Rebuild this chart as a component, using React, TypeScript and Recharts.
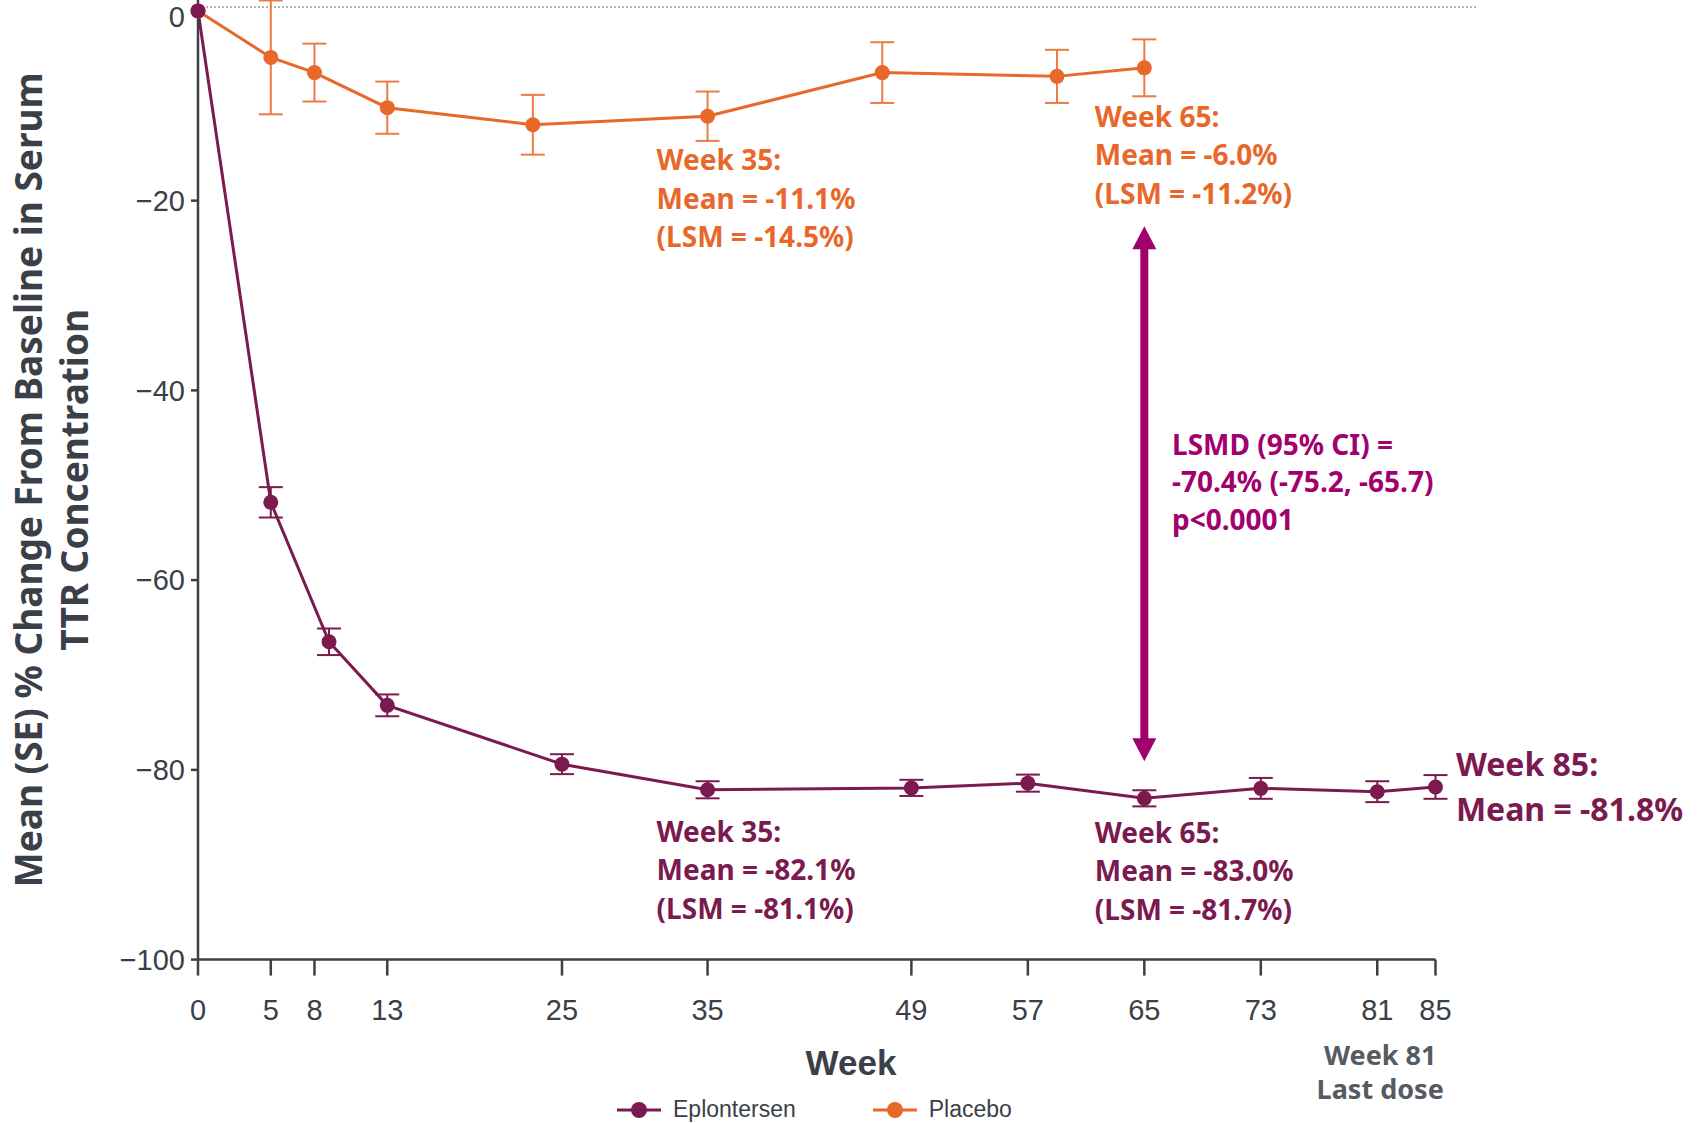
import {
  LineChart,
  Line,
  XAxis,
  YAxis,
  ErrorBar,
  ReferenceLine,
  ReferenceDot,
  Legend,
} from 'recharts';

const ORANGE = '#E8672A';
const ORANGE_ERR = '#EC7A44';
const PURPLE = '#7A1A4E';
const MAGENTA = '#A2006D';
const AXIS = '#3b4048';
const TICK_FONT = "'Liberation Sans', Arial, sans-serif";

const weekTicks = [0, 5, 8, 13, 25, 35, 49, 57, 65, 73, 81, 85];
const pctTicks = [0, -20, -40, -60, -80, -100];

const placeboWeeks = [0, 5, 8, 13, 23, 35, 47, 59, 65];
const placeboMean = [0, -4.9, -6.5, -10.2, -12.0, -11.1, -6.5, -6.9, -6.0];
const placeboSE = [0, 6.0, 3.05, 2.75, 3.15, 2.6, 3.2, 2.8, 3.0];

const eplontersenWeeks = [0, 5, 9, 13, 25, 35, 49, 57, 65, 73, 81, 85];
const eplontersenMean = [0, -51.8, -66.5, -73.2, -79.4, -82.1, -81.9, -81.4, -83.0, -81.95, -82.3, -81.8];
const eplontersenSE = [0, 1.6, 1.4, 1.15, 1.05, 0.9, 0.85, 0.9, 0.85, 1.1, 1.1, 1.25];

const placebo = placeboWeeks.map((week, i) => ({ week, mean: placeboMean[i], se: placeboSE[i] }));
const eplontersen = eplontersenWeeks.map((week, i) => ({
  week,
  mean: eplontersenMean[i],
  se: eplontersenSE[i],
}));

// text callouts, anchored in data units (week, % change) at first baseline
const notes = [
  { week: 31.5, pct: -16.8, color: ORANGE, size: 28, gap: 38.5, anchor: 'start', lines: ['Week 35:', 'Mean = -11.1%', '(LSM = -14.5%)'] },
  { week: 61.6, pct: -12.2, color: ORANGE, size: 28, gap: 38.5, anchor: 'start', lines: ['Week 65:', 'Mean = -6.0%', '(LSM = -11.2%)'] },
  { week: 31.5, pct: -87.6, color: PURPLE, size: 28, gap: 38.5, anchor: 'start', lines: ['Week 35:', 'Mean = -82.1%', '(LSM = -81.1%)'] },
  { week: 61.6, pct: -87.7, color: PURPLE, size: 28, gap: 38.5, anchor: 'start', lines: ['Week 65:', 'Mean = -83.0%', '(LSM = -81.7%)'] },
  { week: 66.9, pct: -46.8, color: MAGENTA, size: 28, gap: 37.5, anchor: 'start', lines: ['LSMD (95% CI) =', '-70.4% (-75.2, -65.7)', 'p<0.0001'] },
  { week: 86.4, pct: -80.6, color: PURPLE, size: 32, gap: 45, anchor: 'start', lines: ['Week 85:', 'Mean = -81.8%'] },
  { week: 81.2, pct: -111.1, color: '#565b62', size: 27, gap: 34.5, anchor: 'middle', lines: ['Week 81', 'Last dose'] },
];

const legendItems = [
  { name: 'Eplontersen', color: PURPLE },
  { name: 'Placebo', color: ORANGE },
];

function Note({ cx, cy, note }: any) {
  return (
    <text
      x={cx}
      y={cy}
      fill={note.color}
      fontFamily="'Noto Sans', sans-serif"
      fontWeight={700}
      fontSize={note.size}
      textAnchor={note.anchor}
    >
      {note.lines.map((l: string, i: number) => (
        <tspan key={i} x={cx} y={cy + i * note.gap}>
          {l}
        </tspan>
      ))}
    </text>
  );
}

function DoubleArrow({ x1, y1, y2 }: any) {
  const head = 23;
  const half = 12;
  const top = Math.min(y1, y2);
  const bot = Math.max(y1, y2);
  return (
    <g fill={MAGENTA}>
      <rect x={x1 - 4} y={top + head - 1} width={8} height={bot - top - 2 * head + 2} />
      <polygon points={`${x1},${top} ${x1 - half},${top + head} ${x1 + half},${top + head}`} />
      <polygon points={`${x1},${bot} ${x1 - half},${bot - head} ${x1 + half},${bot - head}`} />
    </g>
  );
}

function YTick({ x, y, payload }: any) {
  const v = payload.value;
  // the zero label sits a little below its tick in the original
  const shift = v === 0 ? 6 : 0;
  return (
    <text
      x={x}
      y={y + shift}
      dy="0.355em"
      textAnchor="end"
      fill={AXIS}
      fontSize={29}
      fontFamily={TICK_FONT}
    >
      {v < 0 ? `\u2212${Math.abs(v)}` : String(v)}
    </text>
  );
}

function YTitle(props: any) {
  const vb = props.viewBox;
  const cy = vb.y + vb.height / 2;
  const rows = [
    { x: vb.x - 36, text: 'Mean (SE) % Change From Baseline in Serum' },
    { x: vb.x + 10, text: 'TTR Concentration' },
  ];
  return (
    <g>
      {rows.map((r, i) => (
        <text
          key={i}
          x={r.x}
          y={cy}
          transform={`rotate(-90 ${r.x} ${cy})`}
          textAnchor="middle"
          fill={AXIS}
          fontFamily="'Noto Sans', sans-serif"
          fontWeight={700}
          fontSize={37}
        >
          {r.text}
        </text>
      ))}
    </g>
  );
}

function XTitle(props: any) {
  const vb = props.viewBox;
  return (
    <text
      x={vb.x + 653}
      y={vb.y + 115}
      textAnchor="middle"
      fill={AXIS}
      fontFamily={TICK_FONT}
      fontWeight={700}
      fontSize={35}
    >
      Week
    </text>
  );
}

function LegendBox() {
  return (
    <div style={{ display: 'flex', alignItems: 'center', fontFamily: TICK_FONT, fontSize: 23, color: AXIS }}>
      {legendItems.map((it, i) => (
        <div key={it.name} style={{ display: 'flex', alignItems: 'center', marginRight: i === 0 ? 77 : 0 }}>
          <svg width={44} height={20} style={{ marginRight: 12 }}>
            <line x1={0} y1={10} x2={44} y2={10} stroke={it.color} strokeWidth={3} />
            <circle cx={22} cy={10} r={8} fill={it.color} />
          </svg>
          <span>{it.name}</span>
        </div>
      ))}
    </div>
  );
}

export default function App() {
  return (
    <div style={{ position: 'absolute', left: 0, top: 0, width: 1704, height: 1124, background: '#fff' }}>
      <LineChart
        width={1704}
        height={1124}
        margin={{ top: 0, right: 268.5, bottom: 104.4, left: 78 }}
      >
        <XAxis
          type="number"
          dataKey="week"
          domain={[0, 85]}
          ticks={weekTicks}
          interval={0}
          height={60}
          stroke={AXIS}
          strokeWidth={2.5}
          tickSize={16}
          tickMargin={24}
          tick={{ fill: AXIS, fontSize: 29, fontFamily: TICK_FONT }}
          label={{ content: (p: any) => <XTitle {...p} /> }}
        />
        <YAxis
          type="number"
          domain={[-100, 1.15]}
          ticks={pctTicks}
          interval={0}
          width={120}
          stroke={AXIS}
          strokeWidth={2.5}
          tickSize={7}
          tickMargin={6}
          tick={(p: any) => <YTick {...p} />}
          label={{ content: (p: any) => <YTitle {...p} /> }}
        />
        <ReferenceLine
          segment={[{ x: 0, y: 0.4 }, { x: 87.9, y: 0.4 }]}
          ifOverflow="visible"
          stroke="#9c9c9c"
          strokeWidth={1.5}
          strokeDasharray="2 2"
        />
        <Line
          data={placebo}
          dataKey="mean"
          name="Placebo"
          stroke={ORANGE}
          strokeWidth={3}
          dot={{ r: 7.5, fill: ORANGE, stroke: ORANGE, strokeWidth: 0 }}
          activeDot={false}
          isAnimationActive={false}
        >
          <ErrorBar dataKey="se" direction="y" width={12} stroke={ORANGE_ERR} strokeWidth={2} />
        </Line>
        <Line
          data={eplontersen}
          dataKey="mean"
          name="Eplontersen"
          stroke={PURPLE}
          strokeWidth={3}
          dot={{ r: 7.5, fill: PURPLE, stroke: PURPLE, strokeWidth: 0 }}
          activeDot={false}
          isAnimationActive={false}
        >
          <ErrorBar dataKey="se" direction="y" width={12} stroke={PURPLE} strokeWidth={2} />
        </Line>
        <ReferenceLine
          segment={[{ x: 65, y: -22.7 }, { x: 65, y: -79.1 }]}
          ifOverflow="visible"
          shape={(p: any) => <DoubleArrow {...p} />}
        />
        {notes.map((n, i) => (
          <ReferenceDot
            key={i}
            x={n.week}
            y={n.pct}
            r={0}
            ifOverflow="visible"
            shape={(p: any) => <Note cx={p.cx} cy={p.cy} note={n} />}
          />
        ))}
        <Legend
          layout="horizontal"
          verticalAlign="middle"
          align="center"
          wrapperStyle={{ top: 1096, left: 617, width: 'auto' }}
          content={() => <LegendBox />}
        />
      </LineChart>
    </div>
  );
}
